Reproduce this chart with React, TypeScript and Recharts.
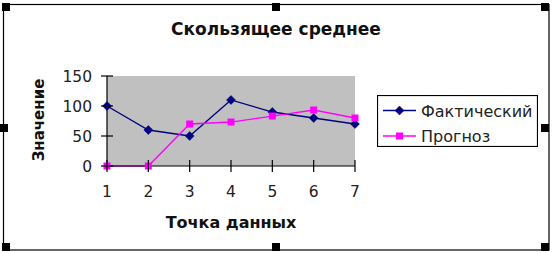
import React from 'react';
import { LineChart, Line, XAxis, YAxis, CartesianGrid, Legend, Customized } from 'recharts';

const categories = [1, 2, 3, 4, 5, 6, 7];
const actualValues = [100, 60, 50, 110, 90, 80, 70];
const forecastValues = [0, 0, 70, 73.3, 83.3, 93.3, 80];
const yTicks = [0, 50, 100, 150];
const seriesKeys = ['actual', 'forecast'];
const seriesNames = { actual: 'Фактический', forecast: 'Прогноз' };
const titleText = 'Скользящее среднее';
const xTitle = 'Точка данных';
const yTitle = 'Значение';

const data = categories.map((c, i) => ({ point: c, actual: actualValues[i], forecast: forecastValues[i] }));

const FONT = '"DejaVu Sans", "Liberation Sans", Arial, sans-serif';
const NAVY = '#000080';
const MAGENTA = '#ff00ff';

const Diamond = (props: any) => {
  const { cx, cy } = props;
  if (cx == null || cy == null) return null;
  const r = 4.5;
  return <polygon points={`${cx},${cy - r} ${cx + r},${cy} ${cx},${cy + r} ${cx - r},${cy}`} fill={NAVY} stroke={NAVY} strokeWidth={0.5} />;
};

const Square = (props: any) => {
  const { cx, cy } = props;
  if (cx == null || cy == null) return null;
  return <rect x={cx - 3.5} y={cy - 3.5} width={7} height={7} fill={MAGENTA} />;
};

const XTick = (props: any) => {
  const { x, y, payload } = props;
  return (
    <g>
      <line x1={x} x2={x} y1={y - 6} y2={y + 6} stroke="#000" strokeWidth={1.2} />
      <text x={x} y={y + 31} textAnchor="middle" fontFamily={FONT} fontSize={15.5} fill="#222">{payload.value}</text>
    </g>
  );
};

const YTick = (props: any) => {
  const { x, y, payload } = props;
  return (
    <g>
      <line x1={x - 6} x2={x + 6} y1={y} y2={y} stroke="#000" strokeWidth={1.2} />
      <text x={x - 15} y={y + 5.5} textAnchor="end" fontFamily={FONT} fontSize={15.5} fill="#222">{payload.value}</text>
    </g>
  );
};

const LegendBox = (props: any) => {
  const payload = [...(props.payload || [])].sort(
    (a: any, b: any) => seriesKeys.indexOf(a.dataKey) - seriesKeys.indexOf(b.dataKey)
  );
  return (
    <svg width={161} height={52} style={{ display: 'block' }}>
      <rect x={0.5} y={0.5} width={160} height={51} fill="#fff" stroke="#000" strokeWidth={1.2} />
      {payload.map((p: any, i: number) => {
        const cy = 15.5 + i * 25.5;
        const isActual = p.dataKey === 'actual';
        const color = isActual ? NAVY : MAGENTA;
        return (
          <g key={i}>
            <line x1={6} x2={39} y1={cy} y2={cy} stroke={color} strokeWidth={1.3} />
            {isActual ? <Diamond cx={22.5} cy={cy} /> : <Square cx={22.5} cy={cy} />}
            <text x={44} y={cy + 6} fontFamily={FONT} fontSize={16} fill="#222">{p.value}</text>
          </g>
        );
      })}
    </svg>
  );
};

const Titles = () => (
  <g>
    <text x={276} y={35} textAnchor="middle" fontFamily={FONT} fontWeight="bold" fontSize={17} fill="#111">{titleText}</text>
    <text x={231} y={228} textAnchor="middle" fontFamily={FONT} fontWeight="bold" fontSize={16} fill="#111">{xTitle}</text>
    <text x={0} y={0} transform="translate(44,120) rotate(-90)" textAnchor="middle" fontFamily={FONT} fontWeight="bold" fontSize={15} fill="#111">{yTitle}</text>
  </g>
);

const Frame = () => {
  const handles = [
    [2, 3], [272, 3], [541, 3],
    [0, 124], [541, 124],
    [2, 243], [272, 243], [541, 243],
  ];
  return (
    <svg width={553} height={253} style={{ position: 'absolute', left: 0, top: 0 }}>
      <rect x={0} y={0} width={553} height={253} fill="#fff" />
      <rect x={3.5} y={4.5} width={545.5} height={245.5} fill="#fff" stroke="#000" strokeWidth={1.2} />
      {handles.map(([hx, hy], i) => (
        <rect key={i} x={hx} y={hy} width={8} height={8} fill="#000" />
      ))}
    </svg>
  );
};

export default function App() {
  return (
    <div style={{ position: 'fixed', left: 0, top: 0, width: 553, height: 253, background: '#fff' }}>
      <Frame />
      <div style={{ position: 'absolute', left: 0, top: 0 }}>
        <LineChart width={553} height={253} data={data} margin={{ top: 76, right: 198, bottom: 47, left: 47 }}>
          <CartesianGrid horizontal={false} vertical={false} fill="#c0c0c0" />
          <XAxis dataKey="point" type="category" height={40} axisLine={{ stroke: '#000', strokeWidth: 1.2 }} tickLine={false} tickSize={0} tickMargin={0} tick={<XTick />} interval={0} />
          <YAxis type="number" domain={[0, 150]} ticks={yTicks} width={60} axisLine={{ stroke: '#000', strokeWidth: 1.2 }} tickLine={false} tickSize={0} tickMargin={0} tick={<YTick />} interval={0} />
          <Legend layout="vertical" align="center" verticalAlign="middle" content={<LegendBox />} wrapperStyle={{ position: 'absolute', left: 377, top: 95, width: 161, height: 52 }} />
          <Line type="linear" dataKey="actual" name={seriesNames.actual} stroke={NAVY} strokeWidth={1.3} dot={<Diamond />} activeDot={false} isAnimationActive={false} />
          <Line type="linear" dataKey="forecast" name={seriesNames.forecast} stroke={MAGENTA} strokeWidth={1.3} dot={<Square />} activeDot={false} isAnimationActive={false} />
          <Customized component={Titles} />
        </LineChart>
      </div>
    </div>
  );
}
